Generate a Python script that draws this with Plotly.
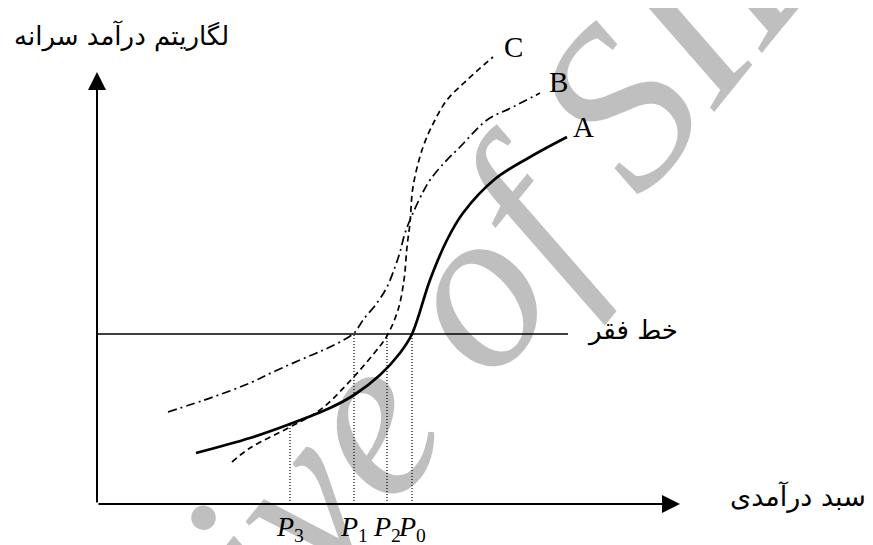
import plotly.graph_objects as go

# ---- data (schematic units; origin at axis crossing) ----
a_x = [1.98, 3.06, 3.86, 4.66, 5.14, 5.66, 6.06, 6.30, 6.66, 7.00, 7.32, 7.96, 8.66, 9.40]
a_y = [1.02, 1.32, 1.60, 1.92, 2.18, 2.58, 3.02, 3.40, 4.48, 5.28, 5.82, 6.50, 6.94, 7.34]

b_x = [1.42, 2.32, 3.06, 3.52, 4.20, 4.66, 5.14, 5.32, 5.60, 5.80, 5.96, 6.06, 6.16, 6.32, 6.52, 6.66, 6.96, 7.26, 7.80, 8.32, 8.86]
b_y = [1.84, 2.14, 2.42, 2.64, 2.94, 3.14, 3.42, 3.68, 4.02, 4.34, 4.74, 5.04, 5.42, 5.82, 6.24, 6.48, 6.84, 7.14, 7.68, 7.94, 8.22]

c_x = [2.70, 3.06, 3.86, 4.46, 5.06, 5.66, 5.80, 6.02, 6.14, 6.20, 6.26, 6.32, 6.52, 6.76, 7.00, 7.40, 7.92]
c_y = [0.84, 1.12, 1.54, 1.88, 2.46, 3.16, 3.36, 3.88, 4.48, 5.14, 5.62, 6.34, 7.14, 7.68, 8.08, 8.48, 8.94]

poverty_y = 3.40
poverty_x_end = 9.42

p_labels = ["3", "1", "2", "0"]
p_x = [3.86, 5.14, 5.80, 6.30]
p_top = [1.60, 3.40, 3.40, 3.40]

curve_labels = ["A", "B", "C"]
curve_label_x = [9.72, 9.22, 8.32]
curve_label_y = [7.54, 8.44, 9.14]

y_title = "لگاریتم درآمد سرانه"
x_title = "سبد درآمدی"
poverty_label = "خط فقر"
watermark = "Archive of SID"

x_axis_end = 11.66
y_axis_end = 8.64

fig = go.Figure()

# dotted verticals
for px, pt in zip(p_x, p_top):
    fig.add_trace(go.Scatter(x=[px, px], y=[0, pt], mode="lines",
                             line=dict(color="black", width=1.2, dash="1px,2px"),
                             hoverinfo="skip", showlegend=False))

# poverty line
fig.add_trace(go.Scatter(x=[0, poverty_x_end], y=[poverty_y, poverty_y], mode="lines",
                         line=dict(color="black", width=1.7), showlegend=False))

# curves
fig.add_trace(go.Scatter(x=b_x, y=b_y, mode="lines", line_shape="spline",
                         line=dict(color="black", width=1.7, dash="9px,4px,2px,4px"),
                         showlegend=False))
fig.add_trace(go.Scatter(x=c_x, y=c_y, mode="lines", line_shape="spline",
                         line=dict(color="black", width=1.7, dash="6px,4px"),
                         showlegend=False))
fig.add_trace(go.Scatter(x=a_x, y=a_y, mode="lines", line_shape="spline",
                         line=dict(color="black", width=2.7),
                         showlegend=False))

# axes with arrowheads
fig.add_annotation(x=0, y=y_axis_end, ax=0, ay=0, xref="x", yref="y", axref="x", ayref="y",
                   showarrow=True, arrowhead=2, arrowsize=1.8, arrowwidth=2, arrowcolor="black", text="")
fig.add_annotation(x=x_axis_end, y=0, ax=0, ay=0, xref="x", yref="y", axref="x", ayref="y",
                   showarrow=True, arrowhead=2, arrowsize=1.8, arrowwidth=2, arrowcolor="black", text="")

serif = "Liberation Serif"
for t, lx, ly in zip(curve_labels, curve_label_x, curve_label_y):
    fig.add_annotation(x=lx, y=ly, text=t, showarrow=False,
                       font=dict(family=serif, size=29, color="black"))

for lab, px in zip(p_labels, p_x):
    fig.add_annotation(x=px, y=-0.10, text=f"<i>P</i><sub>{lab}</sub>", showarrow=False,
                       yanchor="top", font=dict(family=serif, size=28, color="black"))

fa = "DejaVu Sans"
fig.add_annotation(x=0.48, y=9.36, text=y_title, showarrow=False, font=dict(family=fa, size=26, color="black"))
fig.add_annotation(x=10.7, y=3.48, text=poverty_label, showarrow=False, font=dict(family=fa, size=26, color="black"))
fig.add_annotation(x=14.02, y=0.14, text=x_title, showarrow=False, font=dict(family=fa, size=27, color="black"))

# watermark
fig.add_annotation(x=5.5, y=1.9, text=f"<i>{watermark}</i>", showarrow=False, textangle=-51,
                   font=dict(family=serif, size=232, color="rgba(0,0,0,0.25)"))

# ranges offset by the page's 8px body margin so the drawing lands where intended
fig.update_layout(
    width=873, height=545,
    margin=dict(l=0, r=0, t=0, b=0),
    paper_bgcolor="white", plot_bgcolor="white",
    xaxis=dict(range=[-1.78, 15.68], visible=False, fixedrange=True),
    yaxis=dict(range=[-0.98, 9.92], visible=False, fixedrange=True),
    showlegend=False,
)

fig.write_html("out.html")
